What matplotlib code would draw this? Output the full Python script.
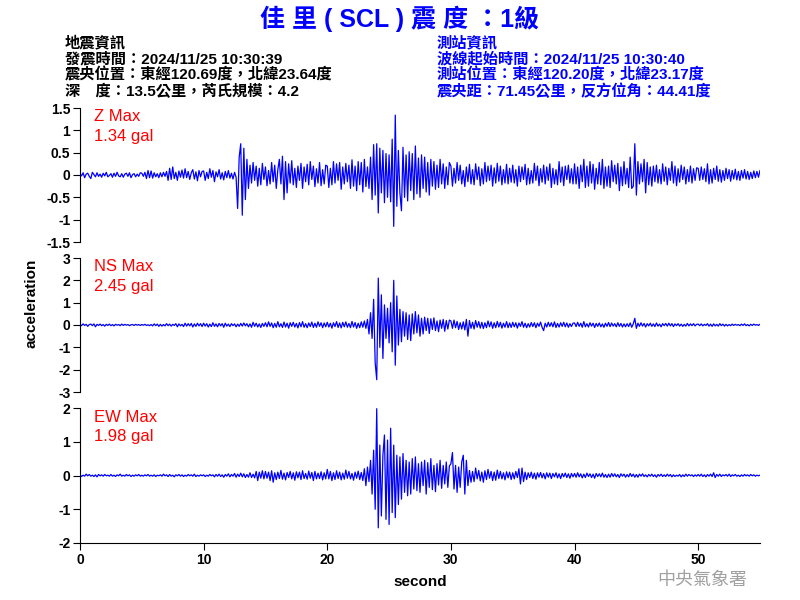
import numpy as np
import matplotlib
matplotlib.use("Agg")
import matplotlib.pyplot as plt

plt.rcParams['font.family'] = ['Liberation Sans', 'Noto Sans CJK TC', 'DejaVu Sans']

# sample spacing of the traced values (s); values in 0.01 gal, one row = 5 s
dt = 0.125
z_centi = [
    3, -2, 5, -6, 2, 4, -3, -8, 6, 1, -4, 5, -3, 2, -5, 4, -2, 6, -4, -1, 3, -5, 4, -3, 6, -2, -4, 3, -5, 2, 4, -3, 5, -6, 1, 3, -4, 2, -3, 5,
    4, -3, 6, -8, 10, -6, 9, -7, 5, -4, 3, -6, 5, -4, 6, -3, 8, -12, 15, -10, 18, -8, 6, -12, 9, -5, 11, -7, 14, -6, 8, -10, 5, 12, -9, 7, -13, 10, -4, 8,
    9, -12, 6, -8, 14, -5, 10, -15, 7, -4, 12, -9, 5, -11, 8, -6, 10, -7, 4, -9, 6, -5, -75, 40, 70, -90, 60, -55, 35, -30, 22, -18, 28, -12, 20, -25, 15, -22, 26, -10,
    18, -24, 10, -20, 28, -15, 22, -30, 12, 35, -20, 42, -55, 30, -40, 25, -18, 32, -22, 15, -28, 20, -12, 26, -30, 18, -15, 24, -22, 30, -10, 20, -26, 14, -18, 28, -24, 12, -20, 22,
    20, -28, 15, -22, 30, -18, 25, -12, 28, -32, 18, -20, 26, -15, 22, -30, 34, -25, 20, -35, 30, -22, 28, -38, 35, -26, 18, -30, 40, -55, 68, -45, 70, -85, 60, -40, 55, -62, 48, -50,
    45, -60, 80, -115, 134, -70, 55, -40, -80, 62, -50, 45, -58, 52, -35, 48, -55, 65, -42, 38, -50, 45, -30, 40, -38, 28, -45, 35, -25, 30, -32, 22, -28, 35, -20, 25, -30, 18, -22, 28,
    20, -25, 15, -18, 28, -12, 22, -20, 10, -26, 18, -15, 24, -20, 12, -22, 25, -10, 18, -24, 14, -20, 28, -15, 20, -12, 22, -25, 16, -18, 26, -14, 20, -22, 12, -18, 24, -20, 15, -16,
    22, -18, 12, -25, 20, -15, 18, -10, 24, -22, 15, -20, 10, -18, 26, -12, 20, -24, 14, -16, 22, -20, 18, -12, 25, -28, 15, -20, 12, -22, 30, -16, 18, -24, 20, -10, 22, -18, 14, -20,
    25, -20, 18, -30, 22, -15, 35, -28, 20, -25, 30, -18, 24, -32, 15, -20, 28, -22, 35, -30, 18, -25, 20, -28, 32, -15, 22, -20, 26, -35, 18, -24, 30, -20, 15, -28, 40, -30, -25, 70,
    -45, 30, -20, 25, -15, 35, -40, 28, -22, 18, -25, 20, -15, 22, -18, 12, -20, 25, -14, 18, -22, 15, -12, 30, -18, 20, -24, 14, -16, 22, -10, 18, -20, 12, -15, 20, -18, 14, -12, 16,
    15, -12, 18, -10, 14, -15, 25, -20, 12, -18, 15, -10, 20, -14, 12, -16, 10, -12, 15, -8, 12, -14, 10, -9, 13, -11, 8, -12, 10, -7, 12, -9, 8, -10, 6, -8, 9, -6, 8, -5,
    10,
]
ns_centi = [
    4, -3, 5, -2, 3, -6, 2, 4, -3, 5, -8, 3, -2, 4, -3, 2, -5, 3, -2, 4, -3, 2, -4, 3, -1, 2, -3, 4, -2, 3, -1, 2, -3, 1, 2, -2, 3, -1, 2, -2,
    2, -1, 3, -2, 1, -3, 2, -4, 5, -3, 4, -6, 3, -5, 2, -4, 6, -3, 4, -5, 3, -2, 6, -8, 5, -4, 3, -7, 8, -5, 6, -4, 7, -9, 5, -6, 8, -4, 6, -7,
    8, -5, 6, -9, 4, -7, 10, -6, 5, -8, 7, -4, 6, -10, 8, -5, 4, -7, 6, -3, 5, -8, 4, -6, 7, -5, 9, -4, 6, -8, 5, -10, 12, -6, 8, -9, 5, -11, 7, -6,
    10, -8, 14, -6, 9, -12, 7, -10, 15, -8, 6, -11, 13, -9, 8, -14, 10, -6, 12, -9, 7, -13, 11, -8, 15, -10, 6, -12, 9, -7, 13, -11, 8, -10, 14, -6, 10, -12, 9, -8,
    12, -9, 8, -14, 10, -7, 15, -11, 9, -13, 12, -8, 14, -10, 7, -12, 16, -9, 11, -15, 8, -12, 14, -10, 18, -15, 25, -40, 55, -60, 115, -170, -245, 210, -100, 135, -150, 90, -60, 75,
    -80, 100, -120, 200, -180, 130, -90, 70, -75, 60, -50, 55, -65, 45, -70, 50, -40, 60, -35, 45, -50, 30, -40, 35, -25, 30, -38, 28, -20, 32, -25, 18, -30, 22, -15, 25, -28, 20, -18, 22,
    18, -15, 22, -12, 16, -20, 10, -18, 14, -22, 25, -50, 20, -15, 12, -18, 20, -10, 15, -14, 12, -16, 10, -12, 18, -8, 14, -15, 10, -12, 16, -9, 12, -14, 8, -10, 15, -12, 9, -11,
    12, -8, 10, -14, 9, -6, 15, -10, 8, -12, 6, -9, 11, -7, 10, -12, 8, -6, 13, -10, -25, 8, -9, 12, -6, 10, -8, 14, -11, 7, -9, 10, -6, 12, -8, 9, -10, 6, -7, 8,
    9, -7, 12, -6, 8, -10, 15, -8, 6, -9, 10, -5, 8, -11, 7, -6, 9, -8, 5, -10, 8, -6, 11, -7, 9, -5, 6, -8, 10, -6, 7, -9, 5, -8, 6, -7, 9, -10, 5, 30,
    -15, 8, -6, 10, -5, 7, -9, 6, -4, 8, -6, 5, -7, 9, -5, 4, -8, 6, -3, 7, -5, 8, -4, 6, -7, 5, -3, 6, -5, 4, -6, 3, -5, 7, -4, 5, -3, 6, -4, 3,
    4, -3, 5, -4, 3, -2, 6, -5, 4, -6, 5, -4, 3, -5, 6, -3, 4, -5, 3, -4, 2, -3, 4, -2, 3, -1, 2, -3, 4, -2, 5, -3, 2, -4, 3, -2, 4, -1, 2, -2,
    3,
]
ew_centi = [
    2, -3, 1, -2, 4, -1, 3, -2, 1, -3, 2, -4, 3, -1, 2, -2, 3, -1, 1, -2, 3, -2, 1, -3, 2, -1, 4, -2, 1, -2, 3, -1, 2, -3, 1, -2, 2, -1, 3, -2,
    1, -2, 2, -1, 3, -2, 1, -2, 2, -3, 1, -1, 2, -2, 4, -1, 2, -3, 3, -2, 1, -4, 2, -1, 3, -2, 2, -3, 1, -2, 3, -1, 2, -2, 4, -3, 1, -2, 2, -1,
    2, -3, 1, -2, 3, -1, 2, -4, 3, -2, 4, -3, 2, -5, 3, -2, 5, -4, 3, -2, 6, -5, 4, -3, 7, -4, 5, -6, 3, -5, 8, -6, 4, -7, 12, -15, 10, -8, 14, -10,
    12, -8, 10, -15, 14, -20, 8, -12, 10, -9, 15, -11, 7, -13, 9, -6, 12, -10, 8, -14, 11, -7, 10, -12, 14, -9, 6, -11, 13, -8, 9, -15, 12, -10, 7, -9, 11, -13, 8, -10,
    18, -10, 12, -15, 8, -12, 14, -9, 10, -13, 7, -11, 16, -8, 12, -10, 6, -14, 10, -8, 13, -12, 9, -15, 20, -30, 25, -18, 45, -55, 75, -100, 198, -155, 90, -120, 60, 120, -130, 105,
    -145, 140, -110, 90, -125, 60, -86, 55, -70, 65, -50, 45, -60, 40, -55, 50, -40, 55, -45, 35, -50, 40, -30, 45, -55, 38, -35, 50, -42, 30, -48, 35, -28, 45, -38, 30, -25, 40, -35, 28,
    35, 68, -40, 30, -50, 25, -35, 40, 60, -55, 45, -30, 15, -20, 12, -18, 22, -10, 15, -16, 10, -20, 14, -12, 18, -8, 12, -15, 10, -14, 16, -9, 12, -10, 8, -13, 11, -7, 10, -12,
    8, -10, 12, -6, 20, -25, 22, -18, 10, -12, 8, -6, 10, -9, 7, -11, 8, -5, 9, -7, 6, -10, 8, -5, 7, -9, 6, -4, 8, -7, 5, -9, 6, -4, 7, -6, 5, -8, 6, -4,
    6, -5, 8, -4, 5, -7, 4, -6, 7, -3, 5, -6, 4, -8, 6, -3, 5, -4, 7, -5, 3, -6, 4, -5, 6, -3, 5, -4, 3, -6, 5, -2, 4, -5, 3, -4, 6, -3, 4, -5,
    3, -5, 4, -2, 5, -3, 2, -4, 3, -2, 4, -3, 2, -5, 3, -2, 4, -3, 2, -3, 4, -2, 3, -4, 2, -3, 1, -2, 3, -4, 2, -3, 4, -2, 3, -1, 2, -3, 2, -2,
    3, -2, 4, -3, 2, -4, 3, -2, 4, -3, 8, -6, 3, -2, 4, -3, 2, -1, 3, -2, 4, -3, 2, -1, 3, -2, 1, -3, 2, -2, 3, -1, 2, -2, 3, -1, 2, -2, 1, -1,
    1,
]

components = ['Z', 'NS', 'EW']
max_labels = ['1.34 gal', '2.45 gal', '1.98 gal']
y_limits = [1.5, 3, 2]
y_ticks = [
    [-1.5, -1, -0.5, 0, 0.5, 1, 1.5],
    [-3, -2, -1, 0, 1, 2, 3],
    [-2, -1, 0, 1, 2],
]
x_ticks = [0, 10, 20, 30, 40, 50]

fig = plt.figure(figsize=(8, 6), dpi=100)

fig.text(400 / 800, 1 - 19 / 600, '佳 里 ( SCL ) 震 度 ：1級', ha='center', va='center',
         fontsize=18, fontweight='bold', color='#0000ff')

left_info = ['地震資訊', '發震時間：2024/11/25 10:30:39',
             '震央位置：東經120.69度，北緯23.64度', '深　度：13.5公里，芮氏規模：4.2']
right_info = ['測站資訊', '波線起始時間：2024/11/25 10:30:40',
              '測站位置：東經120.20度，北緯23.17度', '震央距：71.45公里，反方位角：44.41度']
for i, (l, r) in enumerate(zip(left_info, right_info)):
    y = 1 - (43 + 16 * i) / 600
    fig.text(65 / 800, y, l, ha='left', va='center', fontsize=11, fontweight='bold', color='black')
    fig.text(437 / 800, y, r, ha='left', va='center', fontsize=11, fontweight='bold', color='#0000ff')

panels = [(108, 242), (258, 392), (408, 543)]
traces = [z_centi, ns_centi, ew_centi]
for i, ((top, bot), trace) in enumerate(zip(panels, traces)):
    ax = fig.add_axes([80 / 800, 1 - bot / 600, 680 / 800, (bot - top) / 600])
    vals = np.array(trace) / 100.0
    t = np.arange(len(vals)) * dt
    ax.plot(t, vals, color='#0000ff', lw=0.9)
    ax.set_xlim(0, 55)
    ax.set_ylim(-y_limits[i], y_limits[i])
    ax.set_yticks(y_ticks[i])
    ax.set_yticklabels([f'{v:g}' for v in y_ticks[i]])
    for s in ['top', 'right']:
        ax.spines[s].set_visible(False)
    ax.tick_params(axis='both', labelsize=10, direction='out', length=5, pad=2)
    for lab in ax.get_yticklabels():
        lab.set_fontweight('bold')
    if i < 2:
        ax.spines['bottom'].set_visible(False)
        ax.set_xticks([])
    else:
        ax.set_xticks(x_ticks)
        for lab in ax.get_xticklabels():
            lab.set_fontweight('bold')
        ax.set_xlabel('second', fontsize=11, fontweight='bold', labelpad=6)
    ax.text(14 / 680, 1 - 9 / (bot - top), f'{components[i]} Max', transform=ax.transAxes,
            ha='left', va='center', color='#ff0000', fontsize=12)
    ax.text(14 / 680, 1 - 29 / (bot - top), max_labels[i], transform=ax.transAxes,
            ha='left', va='center', color='#ff0000', fontsize=12)

fig.text(32 / 800, 1 - 303 / 600, 'acceleration', rotation=90, ha='center', va='center',
         fontsize=11, fontweight='bold')
fig.text(702 / 800, 1 - 580 / 600, '中央氣象署', ha='center', va='center',
         fontsize=13, color='#a0a0a0', family=['Noto Sans CJK TC'])

fig.savefig('out.png', dpi=100)
